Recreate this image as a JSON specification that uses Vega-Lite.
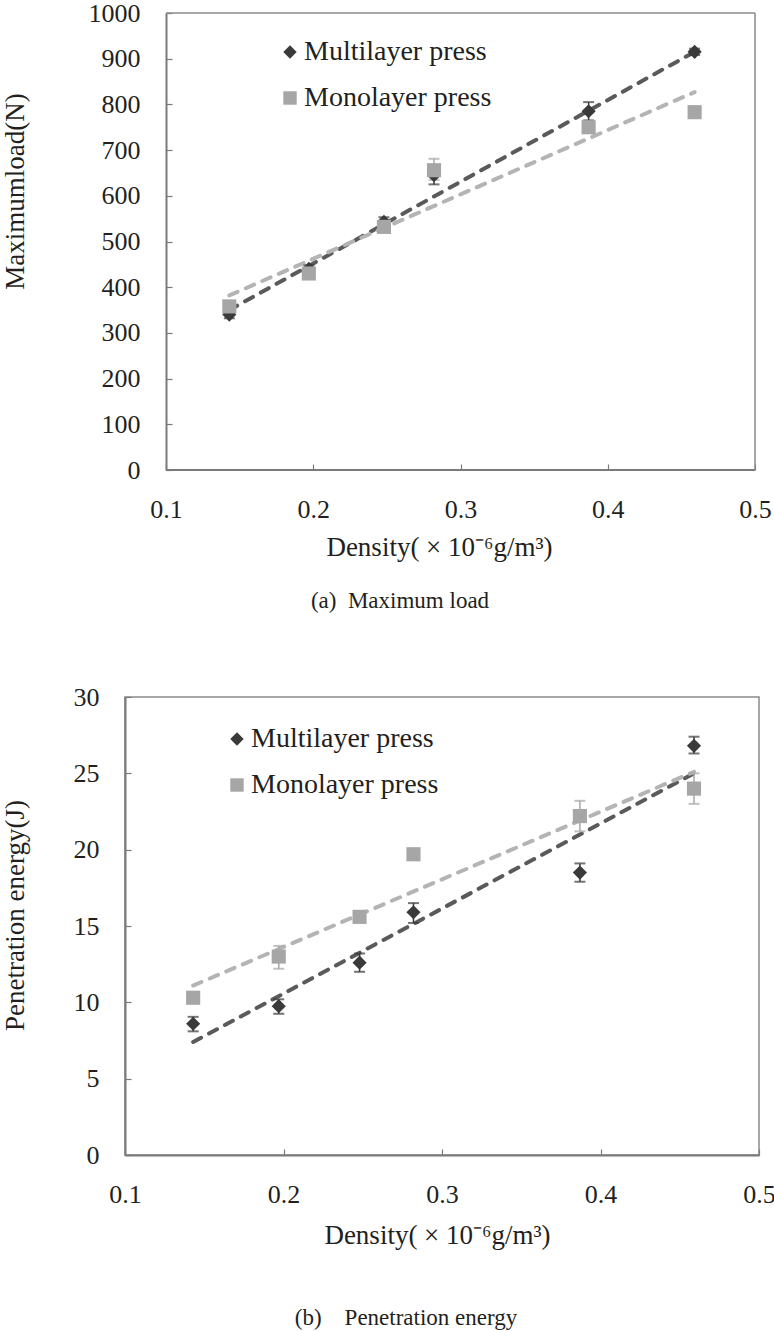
{
  "$schema": "https://vega.github.io/schema/vega-lite/v6.json",
  "padding": {"top": 0, "left": 0, "right": 0, "bottom": 0},
  "background": "white",
  "config": {
    "font": "Liberation Serif",
    "view": {"stroke": "#8a8a8a", "strokeWidth": 1.5},
    "axis": {
      "domainColor": "#7a7a7a", "domainWidth": 2,
      "tickColor": "#7a7a7a", "tickSize": -6, "tickWidth": 1.2,
      "grid": false, "labelFlush": false,
      "labelFont": "Liberation Serif", "labelFontSize": 26, "labelColor": "#231f20", "labelPadding": 32,
      "titleFont": "Liberation Serif", "titleFontSize": 27, "titleFontWeight": "normal", "titleColor": "#231f20"
    },
    "legend": {
      "labelFont": "Liberation Serif", "labelFontSize": 28, "labelColor": "#231f20", "labelLimit": 0,
      "symbolSize": 180, "symbolStrokeWidth": 0, "rowPadding": 18, "labelOffset": 0, "padding": 0
    }
  },
  "datasets": {
    "loadPts": [
      {"series": "Multilayer press", "density": 0.143, "value": 340, "lo": 332, "hi": 348},
      {"series": "Multilayer press", "density": 0.197, "value": 440, "lo": 432, "hi": 448},
      {"series": "Multilayer press", "density": 0.248, "value": 543, "lo": 533, "hi": 553},
      {"series": "Multilayer press", "density": 0.282, "value": 645, "lo": 625, "hi": 665},
      {"series": "Multilayer press", "density": 0.387, "value": 785, "lo": 765, "hi": 805},
      {"series": "Multilayer press", "density": 0.459, "value": 915, "lo": 908, "hi": 922},
      {"series": "Monolayer press", "density": 0.143, "value": 358, "lo": 350, "hi": 366},
      {"series": "Monolayer press", "density": 0.197, "value": 430, "lo": 420, "hi": 440},
      {"series": "Monolayer press", "density": 0.248, "value": 532, "lo": 526, "hi": 538},
      {"series": "Monolayer press", "density": 0.282, "value": 656, "lo": 635, "hi": 681},
      {"series": "Monolayer press", "density": 0.387, "value": 750, "lo": 742, "hi": 758},
      {"series": "Monolayer press", "density": 0.459, "value": 783, "lo": 776, "hi": 790}
    ],
    "loadFit": [
      {"series": "Multilayer press", "density": 0.143, "value": 350},
      {"series": "Multilayer press", "density": 0.459, "value": 915},
      {"series": "Monolayer press", "density": 0.143, "value": 382},
      {"series": "Monolayer press", "density": 0.459, "value": 827}
    ],
    "energyPts": [
      {"series": "Multilayer press", "density": 0.143, "value": 8.6, "lo": 8.1, "hi": 9.05},
      {"series": "Multilayer press", "density": 0.197, "value": 9.75, "lo": 9.25, "hi": 10.2},
      {"series": "Multilayer press", "density": 0.248, "value": 12.6, "lo": 12.0, "hi": 13.2},
      {"series": "Multilayer press", "density": 0.282, "value": 15.9, "lo": 15.2, "hi": 16.5},
      {"series": "Multilayer press", "density": 0.387, "value": 18.5, "lo": 17.9, "hi": 19.1},
      {"series": "Multilayer press", "density": 0.459, "value": 26.8, "lo": 26.3, "hi": 27.4},
      {"series": "Monolayer press", "density": 0.143, "value": 10.3, "lo": 10.0, "hi": 10.6},
      {"series": "Monolayer press", "density": 0.197, "value": 13.0, "lo": 12.2, "hi": 13.7},
      {"series": "Monolayer press", "density": 0.248, "value": 15.6, "lo": 15.3, "hi": 15.9},
      {"series": "Monolayer press", "density": 0.282, "value": 19.7, "lo": 19.6, "hi": 19.8},
      {"series": "Monolayer press", "density": 0.387, "value": 22.2, "lo": 21.2, "hi": 23.2},
      {"series": "Monolayer press", "density": 0.459, "value": 24.0, "lo": 23.0, "hi": 25.0}
    ],
    "energyFit": [
      {"series": "Multilayer press", "density": 0.143, "value": 7.4},
      {"series": "Multilayer press", "density": 0.459, "value": 25.0},
      {"series": "Monolayer press", "density": 0.143, "value": 11.1},
      {"series": "Monolayer press", "density": 0.459, "value": 25.1}
    ]
  },
  "spacing": 70,
  "resolve": {
    "scale": {"color": "independent", "fill": "independent", "shape": "independent", "stroke": "independent"},
    "legend": {"fill": "independent", "shape": "independent"}
  },
  "vconcat": [
    {
      "width": 630,
      "height": 457,
      "view": {"stroke": null},
      "title": {"text": "(a)\u00a0\u00a0Maximum load", "orient": "bottom", "fontSize": 23, "fontWeight": "normal", "font": "Liberation Serif", "color": "#231f20", "dx": -40, "offset": 30},
      "layer": [
        {
          "data": {"name": "loadFit"},
          "mark": {"type": "line", "strokeDash": [9, 9], "strokeWidth": 4, "strokeCap": "round"},
          "encoding": {
            "x": {"field": "density", "type": "quantitative", "title": "Density( \u00d7 10\u207b\u2076g/m\u00b3)",
                  "scale": {"domain": [0.07215, 0.5], "nice": false, "zero": false},
                  "axis": {"values": [0.1, 0.2, 0.3, 0.4, 0.5], "format": ".1f", "domain": false, "titleX": 314, "titleY": 77, "titleBaseline": "middle"}},
            "y": {"field": "value", "type": "quantitative", "title": "Maximumload(N)",
                  "scale": {"domain": [0, 1000], "nice": false},
                  "axis": {"values": [0, 100, 200, 300, 400, 500, 600, 700, 800, 900, 1000], "format": "d", "offset": -41, "titleX": -151, "titleY": 178, "titleBaseline": "middle", "titleAlign": "center"}},
            "stroke": {"field": "series", "type": "nominal", "scale": {"domain": ["Monolayer press", "Multilayer press"], "range": ["#b4b4b4", "#5a5a5a"]}, "legend": null}
          }
        },
        {
          "data": {"values": [{}]},
          "mark": {"type": "rule", "color": "#8a8a8a", "strokeWidth": 1.5},
          "encoding": {
            "x": {"datum": 0.1, "type": "quantitative", "title": "Density( \u00d7 10\u207b\u2076g/m\u00b3)"},
            "x2": {"datum": 0.5},
            "y": {"datum": 1000, "type": "quantitative", "title": "Maximumload(N)"}
          }
        },
        {
          "data": {"values": [{}]},
          "mark": {"type": "rule", "color": "#8a8a8a", "strokeWidth": 1.5},
          "encoding": {
            "x": {"datum": 0.5, "type": "quantitative", "title": "Density( \u00d7 10\u207b\u2076g/m\u00b3)"},
            "y": {"datum": 0, "type": "quantitative", "title": "Maximumload(N)"},
            "y2": {"datum": 1000}
          }
        },
        {
          "data": {"values": [{}]},
          "mark": {"type": "rule", "color": "#7a7a7a", "strokeWidth": 2},
          "encoding": {
            "x": {"datum": 0.1, "type": "quantitative", "title": "Density( \u00d7 10\u207b\u2076g/m\u00b3)"},
            "x2": {"datum": 0.5},
            "y": {"datum": 0, "type": "quantitative", "title": "Maximumload(N)"}
          }
        },
        {
          "data": {"name": "loadPts"},
          "mark": {"type": "rule", "strokeWidth": 1.5},
          "encoding": {
            "x": {"field": "density", "type": "quantitative", "title": "Density( \u00d7 10\u207b\u2076g/m\u00b3)"},
            "y": {"field": "lo", "type": "quantitative", "title": "Maximumload(N)"},
            "y2": {"field": "hi"},
            "color": {"field": "series", "type": "nominal", "scale": {"domain": ["Monolayer press", "Multilayer press"], "range": ["#a6a6a6", "#3a3a3a"]}, "legend": null}
          }
        },
        {
          "data": {"name": "loadPts"},
          "mark": {"type": "tick", "orient": "horizontal", "size": 11, "thickness": 2},
          "encoding": {
            "x": {"field": "density", "type": "quantitative", "title": "Density( \u00d7 10\u207b\u2076g/m\u00b3)"},
            "y": {"field": "lo", "type": "quantitative", "title": "Maximumload(N)"},
            "color": {"field": "series", "type": "nominal", "scale": {"domain": ["Monolayer press", "Multilayer press"], "range": ["#a6a6a6", "#3a3a3a"]}, "legend": null}
          }
        },
        {
          "data": {"name": "loadPts"},
          "mark": {"type": "tick", "orient": "horizontal", "size": 11, "thickness": 2},
          "encoding": {
            "x": {"field": "density", "type": "quantitative", "title": "Density( \u00d7 10\u207b\u2076g/m\u00b3)"},
            "y": {"field": "hi", "type": "quantitative", "title": "Maximumload(N)"},
            "color": {"field": "series", "type": "nominal", "scale": {"domain": ["Monolayer press", "Multilayer press"], "range": ["#a6a6a6", "#3a3a3a"]}, "legend": null}
          }
        },
        {
          "data": {"name": "loadPts"},
          "mark": {"type": "point", "filled": true, "opacity": 1, "size": 200},
          "encoding": {
            "x": {"field": "density", "type": "quantitative", "title": "Density( \u00d7 10\u207b\u2076g/m\u00b3)"},
            "y": {"field": "value", "type": "quantitative", "title": "Maximumload(N)"},
            "fill": {"field": "series", "type": "nominal", "title": null, "scale": {"domain": ["Multilayer press", "Monolayer press"], "range": ["#3a3a3a", "#a6a6a6"]},
                      "legend": {"orient": "none", "legendX": 151, "legendY": 25, "title": null}},
            "shape": {"field": "series", "type": "nominal", "title": null, "scale": {"domain": ["Multilayer press", "Monolayer press"], "range": ["diamond", "square"]},
                      "legend": {"orient": "none", "legendX": 151, "legendY": 25, "title": null}}
          }
        }
      ]
    },
    {
      "width": 634,
      "height": 458,
      "title": {"text": "(b)\u00a0\u00a0\u00a0\u00a0Penetration energy", "orient": "bottom", "fontSize": 23, "fontWeight": "normal", "font": "Liberation Serif", "color": "#231f20", "dx": -36, "offset": 59},
      "layer": [
        {
          "data": {"name": "energyFit"},
          "mark": {"type": "line", "strokeDash": [9, 9], "strokeWidth": 4, "strokeCap": "round"},
          "encoding": {
            "x": {"field": "density", "type": "quantitative", "title": "Density( \u00d7 10\u207b\u2076g/m\u00b3)",
                  "scale": {"domain": [0.1, 0.5], "nice": false, "zero": false},
                  "axis": {"values": [0.1, 0.2, 0.3, 0.4, 0.5], "format": ".1f", "titleX": 312, "titleY": 80, "titleBaseline": "middle"}},
            "y": {"field": "value", "type": "quantitative", "title": "Penetration energy(J)",
                  "scale": {"domain": [0, 30], "nice": false},
                  "axis": {"values": [0, 5, 10, 15, 20, 25, 30], "titleX": -110, "titleY": 218, "titleBaseline": "middle", "titleAlign": "center"}},
            "stroke": {"field": "series", "type": "nominal", "scale": {"domain": ["Monolayer press", "Multilayer press"], "range": ["#b4b4b4", "#5a5a5a"]}, "legend": null}
          }
        },
        {
          "data": {"name": "energyPts"},
          "mark": {"type": "rule", "strokeWidth": 1.5},
          "encoding": {
            "x": {"field": "density", "type": "quantitative", "title": "Density( \u00d7 10\u207b\u2076g/m\u00b3)"},
            "y": {"field": "lo", "type": "quantitative", "title": "Penetration energy(J)"},
            "y2": {"field": "hi"},
            "color": {"field": "series", "type": "nominal", "scale": {"domain": ["Monolayer press", "Multilayer press"], "range": ["#a6a6a6", "#3a3a3a"]}, "legend": null}
          }
        },
        {
          "data": {"name": "energyPts"},
          "mark": {"type": "tick", "orient": "horizontal", "size": 11, "thickness": 2},
          "encoding": {
            "x": {"field": "density", "type": "quantitative", "title": "Density( \u00d7 10\u207b\u2076g/m\u00b3)"},
            "y": {"field": "lo", "type": "quantitative", "title": "Penetration energy(J)"},
            "color": {"field": "series", "type": "nominal", "scale": {"domain": ["Monolayer press", "Multilayer press"], "range": ["#a6a6a6", "#3a3a3a"]}, "legend": null}
          }
        },
        {
          "data": {"name": "energyPts"},
          "mark": {"type": "tick", "orient": "horizontal", "size": 11, "thickness": 2},
          "encoding": {
            "x": {"field": "density", "type": "quantitative", "title": "Density( \u00d7 10\u207b\u2076g/m\u00b3)"},
            "y": {"field": "hi", "type": "quantitative", "title": "Penetration energy(J)"},
            "color": {"field": "series", "type": "nominal", "scale": {"domain": ["Monolayer press", "Multilayer press"], "range": ["#a6a6a6", "#3a3a3a"]}, "legend": null}
          }
        },
        {
          "data": {"name": "energyPts"},
          "mark": {"type": "point", "filled": true, "opacity": 1, "size": 200},
          "encoding": {
            "x": {"field": "density", "type": "quantitative", "title": "Density( \u00d7 10\u207b\u2076g/m\u00b3)"},
            "y": {"field": "value", "type": "quantitative", "title": "Penetration energy(J)"},
            "fill": {"field": "series", "type": "nominal", "title": null, "scale": {"domain": ["Multilayer press", "Monolayer press"], "range": ["#3a3a3a", "#a6a6a6"]},
                      "legend": {"orient": "none", "legendX": 98, "legendY": 28, "title": null}},
            "shape": {"field": "series", "type": "nominal", "title": null, "scale": {"domain": ["Multilayer press", "Monolayer press"], "range": ["diamond", "square"]},
                      "legend": {"orient": "none", "legendX": 98, "legendY": 28, "title": null}}
          }
        }
      ]
    }
  ]
}
